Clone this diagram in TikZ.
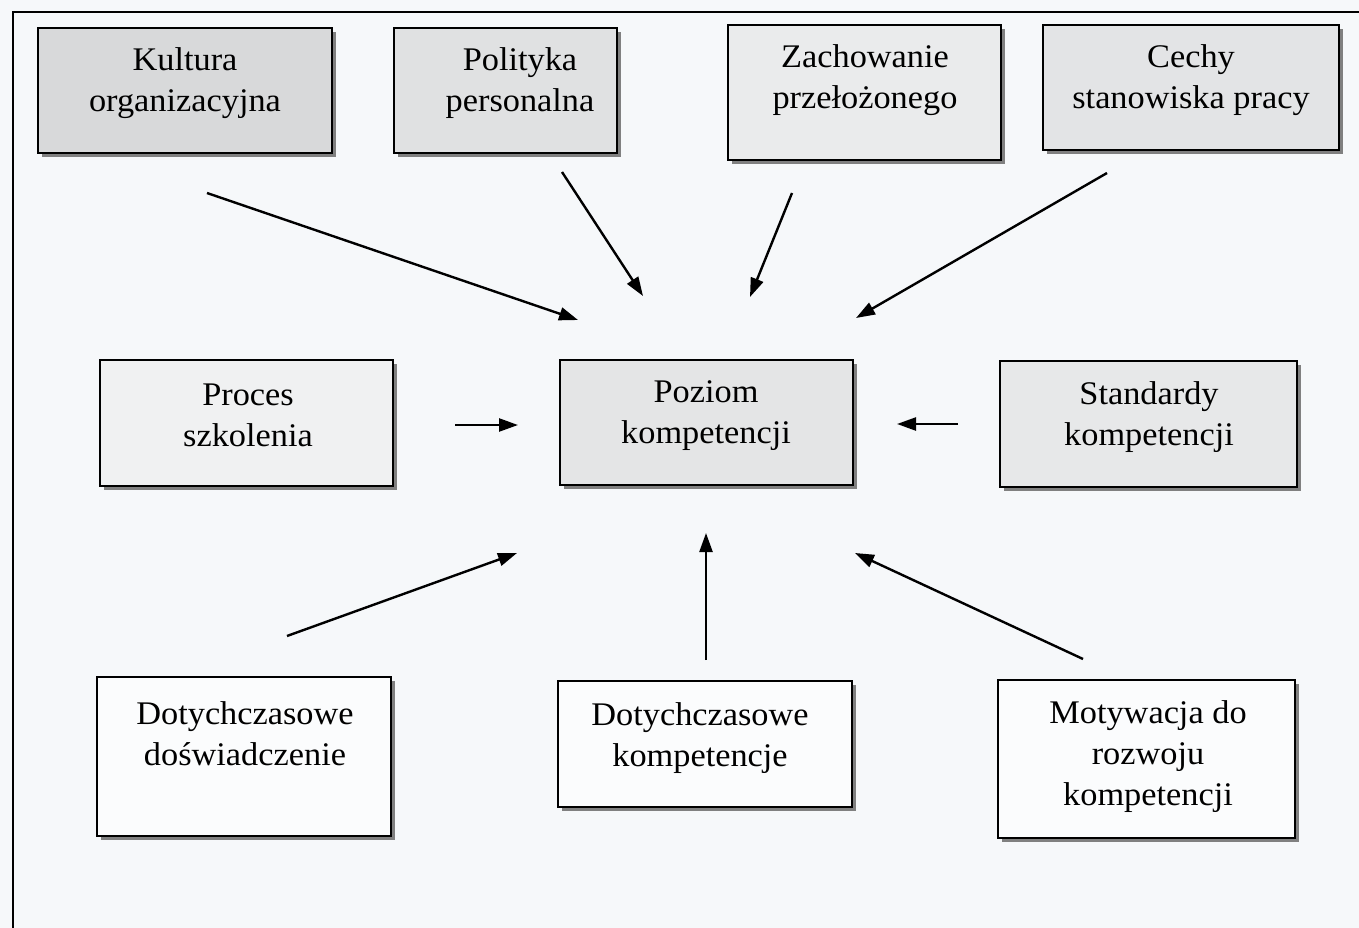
\documentclass[tikz,border=0pt]{standalone}
\usepackage{fontspec}
\setmainfont{Liberation Serif}[FakeStretch=1.04]
\usetikzlibrary{arrows.meta,shadows}

\definecolor{paper}{HTML}{F6F8FA}
\definecolor{fillA}{HTML}{D8D9DA}
\definecolor{fillB}{HTML}{E0E1E2}
\definecolor{fillC}{HTML}{EAEBEC}
\definecolor{fillD}{HTML}{E3E4E6}
\definecolor{fillE}{HTML}{F0F1F2}
\definecolor{fillF}{HTML}{E4E5E6}
\definecolor{fillG}{HTML}{E7E8E9}
\definecolor{fillW}{HTML}{FBFCFD}

\tikzset{
  box/.style={draw=black, line width=1.7pt, rectangle, inner sep=0pt,
    drop shadow={shadow xshift=4pt, shadow yshift=-4pt, fill=black!50, opacity=1}},
  lbl/.style={align=center, inner sep=0pt, font=\fontsize{33}{41}\selectfont},
  arr/.style={line width=2.4pt, -{Triangle[length=19pt,width=13pt]}},
  frame/.style={line width=2pt}
}

\begin{document}
\begin{tikzpicture}[x=1pt, y=-1pt]
\fill[paper] (0,0) rectangle (1359,928);
\useasboundingbox (0,0) rectangle (1359,928);

% outer frame (continues past the page edges)
\draw[frame] (13,940) -- (13,12) -- (1370,12);

% top row of factors
\node[box, fill=fillA, minimum width=294pt, minimum height=125pt] (kul) at (185,90.5) {};
\node[box, fill=fillB, minimum width=223pt, minimum height=125pt] (pol) at (505.5,90.5) {};
\node[box, fill=fillC, minimum width=273pt, minimum height=135pt] (zach) at (864.5,92.5) {};
\node[box, fill=fillD, minimum width=296pt, minimum height=125pt] (cech) at (1191,87.5) {};

% middle row
\node[box, fill=fillE, minimum width=293pt, minimum height=126pt] (proc) at (246.5,423) {};
\node[box, fill=fillF, minimum width=293pt, minimum height=125pt] (poz) at (706.5,422.5) {};
\node[box, fill=fillG, minimum width=297pt, minimum height=126pt] (std) at (1148.5,424) {};

% bottom row
\node[box, fill=fillW, minimum width=294pt, minimum height=159pt] (dd) at (244,756.5) {};
\node[box, fill=fillW, minimum width=294pt, minimum height=126pt] (dk) at (705,744) {};
\node[box, fill=fillW, minimum width=297pt, minimum height=158pt] (mot) at (1146.5,759) {};

% texts
\node[lbl] (kulT) at (185,83) {Kultura\\organizacyjna};
\node[lbl] (polT) at (520,83) {Polityka\\personalna};
\node[lbl] (zachT) at (865,80) {Zachowanie\\przełożonego};
\node[lbl] (cechT) at (1191,80) {Cechy\\stanowiska pracy};
\node[lbl] (procT) at (248,415) {Proces\\szkolenia};
\node[lbl] (pozT) at (706,416) {Poziom\\kompetencji};
\node[lbl] (stdT) at (1149,417) {Standardy\\kompetencji};
\node[lbl] (ddT) at (245,734) {Dotychczasowe\\doświadczenie};
\node[lbl] (dkT) at (700,738) {Dotychczasowe\\kompetencje};
\node[lbl] (motT) at (1148,757) {Motywacja do\\rozwoju\\kompetencji};

% arrow end points
\coordinate (a1s) at (207,193);  \coordinate (a1e) at (578,320);
\coordinate (a2s) at (562,172);  \coordinate (a2e) at (643,296);
\coordinate (a3s) at (792,193);  \coordinate (a3e) at (750,297);
\coordinate (a4s) at (1107,173); \coordinate (a4e) at (856,318);
\coordinate (a5s) at (455,425);  \coordinate (a5e) at (518,425);
\coordinate (a6s) at (958,424);  \coordinate (a6e) at (897,424);
\coordinate (a7s) at (287,636);  \coordinate (a7e) at (517,553);
\coordinate (a8s) at (706,660);  \coordinate (a8e) at (706,533);
\coordinate (a9s) at (1083,659); \coordinate (a9e) at (855,553);

\foreach \i in {1,...,9} \draw[arr] (a\i s) -- (a\i e);
\end{tikzpicture}
\end{document}
